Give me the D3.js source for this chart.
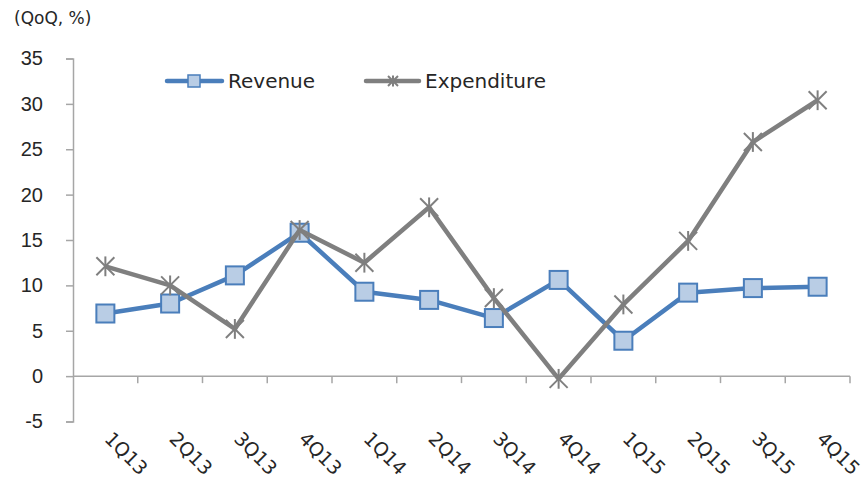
<!DOCTYPE html>
<html>
<head>
<meta charset="utf-8">
<script src="https://cdn.jsdelivr.net/npm/d3@7"></script>
<style>
  body { margin: 0; background: #fff; }
  svg { font-family: "DejaVu Sans", Verdana, sans-serif; }
</style>
</head>
<body>
<script>
var quarters = ["1Q13", "2Q13", "3Q13", "4Q13", "1Q14", "2Q14", "3Q14", "4Q14", "1Q15", "2Q15", "3Q15", "4Q15"];
var revenue = [6.9, 8.0, 11.1, 15.8, 9.3, 8.4, 6.4, 10.6, 3.9, 9.2, 9.7, 9.85];
var expenditure = [12.1, 10.0, 5.2, 16.1, 12.5, 18.6, 8.6, -0.3, 7.9, 14.9, 25.8, 30.4];
var yTicks = [-5, 0, 5, 10, 15, 20, 25, 30, 35];

var width = 868, height = 483;
var plot = { left: 73, right: 850, top: 58.5, bottom: 421.5 };

var svg = d3.select("body").append("svg")
  .attr("width", width)
  .attr("height", height);

var x = d3.scaleBand().domain(quarters).range([plot.left, plot.right]);
var y = d3.scaleLinear().domain([-5, 35]).range([plot.bottom, plot.top]);

var axisColor = "#a6a6a6", textColor = "#262626";

// y axis
var yAxis = svg.append("g")
  .attr("transform", "translate(" + plot.left + ",0)")
  .call(d3.axisLeft(y).tickValues(yTicks).tickSize(7).tickPadding(23)
    .tickFormat(function(d) { return String(d); }));
yAxis.select(".domain").attr("stroke", axisColor).attr("stroke-width", 1.5);
yAxis.selectAll(".tick line").attr("stroke", axisColor).attr("stroke-width", 1.5);
yAxis.selectAll(".tick text")
  .attr("fill", textColor)
  .style("font-size", "20px");

// x axis on zero line
var xAxis = svg.append("g")
  .attr("transform", "translate(0," + y(0) + ")");
xAxis.append("line")
  .attr("x1", plot.left).attr("x2", plot.right)
  .attr("stroke", axisColor).attr("stroke-width", 1.5);
xAxis.selectAll(".xt")
  .data(quarters)
  .enter().append("line")
  .attr("class", "xt")
  .attr("x1", function(d) { return x(d) + x.bandwidth(); })
  .attr("x2", function(d) { return x(d) + x.bandwidth(); })
  .attr("y1", 0).attr("y2", 7)
  .attr("stroke", axisColor).attr("stroke-width", 1.5);

svg.selectAll(".xlabel")
  .data(quarters)
  .enter().append("text")
  .attr("class", "xlabel")
  .attr("transform", function(d) {
    return "translate(" + (x(d) + x.bandwidth() / 2 - 2) + ",440) rotate(45)";
  })
  .attr("fill", textColor)
  .style("font-size", "19px")
  .text(function(d) { return d; });

// unit label
svg.append("text")
  .attr("x", 14).attr("y", 24)
  .attr("fill", textColor)
  .style("font-size", "17px")
  .text("(QoQ, %)");

var line = d3.line()
  .x(function(d, i) { return x(quarters[i]) + x.bandwidth() / 2; })
  .y(function(d) { return y(d); });

var blue = "#4a7ebb", blueFill = "#b9cde5", grey = "#7f7f7f";

function drawStar(g, cx, cy, r) {
  var s = g.append("g").attr("transform", "translate(" + cx + "," + cy + ")")
    .attr("stroke", grey).attr("stroke-width", 2);
  s.append("line").attr("x1", -r).attr("y1", -r).attr("x2", r).attr("y2", r);
  s.append("line").attr("x1", -r).attr("y1", r).attr("x2", r).attr("y2", -r);
  s.append("line").attr("x1", 0).attr("y1", -r * 1.1).attr("x2", 0).attr("y2", r * 1.1);
}

// revenue
svg.append("path")
  .datum(revenue)
  .attr("d", line)
  .attr("fill", "none")
  .attr("stroke", blue)
  .attr("stroke-width", 4.5)
  .attr("stroke-linejoin", "round");
svg.selectAll(".rmark")
  .data(revenue)
  .enter().append("rect")
  .attr("class", "rmark")
  .attr("x", function(d, i) { return x(quarters[i]) + x.bandwidth() / 2 - 9; })
  .attr("y", function(d) { return y(d) - 9; })
  .attr("width", 18).attr("height", 18)
  .attr("fill", blueFill)
  .attr("stroke", blue)
  .attr("stroke-width", 2);

// expenditure (drawn on top)
svg.append("path")
  .datum(expenditure)
  .attr("d", line)
  .attr("fill", "none")
  .attr("stroke", grey)
  .attr("stroke-width", 4.5)
  .attr("stroke-linejoin", "round");
var gE = svg.append("g");
expenditure.forEach(function(v, i) {
  drawStar(gE, x(quarters[i]) + x.bandwidth() / 2, y(v), 9);
});

// legend
var legend = svg.append("g");
legend.append("line")
  .attr("x1", 167).attr("x2", 222).attr("y1", 81).attr("y2", 81)
  .attr("stroke", blue).attr("stroke-width", 4.5).attr("stroke-linecap", "round");
legend.append("rect")
  .attr("x", 188).attr("y", 75).attr("width", 12).attr("height", 12)
  .attr("fill", blueFill).attr("stroke", blue).attr("stroke-width", 1.5);
legend.append("text")
  .attr("x", 228).attr("y", 88)
  .attr("fill", textColor).style("font-size", "20px")
  .text("Revenue");

legend.append("line")
  .attr("x1", 366).attr("x2", 419).attr("y1", 81).attr("y2", 81)
  .attr("stroke", grey).attr("stroke-width", 4.5).attr("stroke-linecap", "round");
drawStar(legend, 393, 81, 5);
legend.append("text")
  .attr("x", 425).attr("y", 88)
  .attr("fill", textColor).style("font-size", "20px")
  .text("Expenditure");
</script>
</body>
</html>
